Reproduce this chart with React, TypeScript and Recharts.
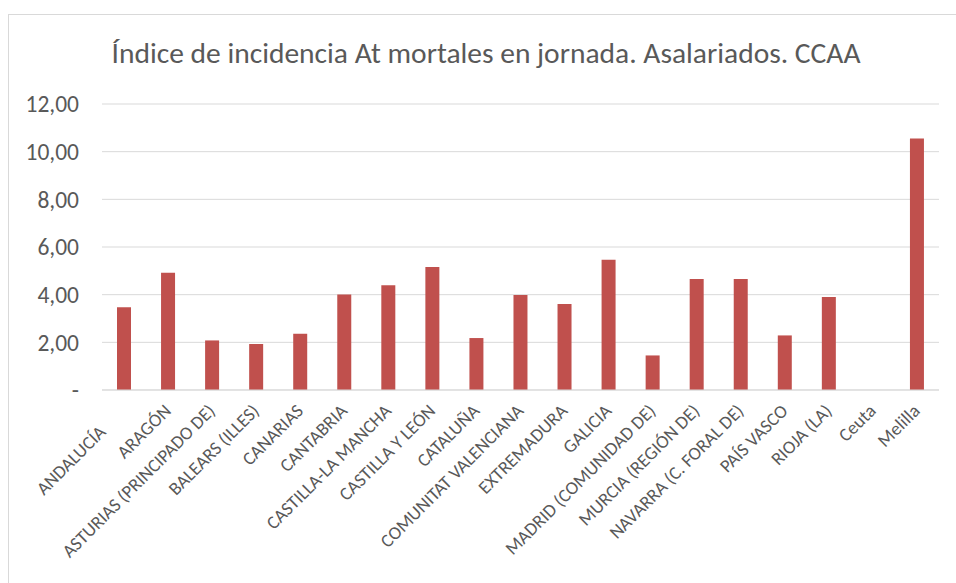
import React from "react";
import { BarChart, Bar, XAxis, YAxis, CartesianGrid } from "recharts";

// Comunidades autónomas, en el orden del gráfico original
const regions = [
  "ANDALUCÍA",
  "ARAGÓN",
  "ASTURIAS (PRINCIPADO DE)",
  "BALEARS (ILLES)",
  "CANARIAS",
  "CANTABRIA",
  "CASTILLA-LA MANCHA",
  "CASTILLA Y LEÓN",
  "CATALUÑA",
  "COMUNITAT VALENCIANA",
  "EXTREMADURA",
  "GALICIA",
  "MADRID (COMUNIDAD DE)",
  "MURCIA (REGIÓN DE)",
  "NAVARRA (C. FORAL DE)",
  "PAÍS VASCO",
  "RIOJA (LA)",
  "Ceuta",
  "Melilla",
];

// Índice de incidencia
const incidence = [
  3.47, 4.92, 2.08, 1.93, 2.36, 4.01, 4.39, 5.16, 2.18, 3.99, 3.61, 5.46, 1.45,
  4.66, 4.66, 2.29, 3.9, 0, 10.55,
];

const yTicks = [0, 2, 4, 6, 8, 10, 12];

const TITLE = "Índice de incidencia At mortales en jornada. Asalariados. CCAA";
const FONT = "Carlito, Calibri, Lato, sans-serif";
const TEXT = "#595959";
const GRID = "#d9d9d9";

const data = regions.map((name, i) => ({ name, value: incidence[i] }));

const formatY = (v: number) => (v === 0 ? "-" : v.toFixed(2).replace(".", ","));

function RegionTick(props: any) {
  const { x, y, payload, index } = props;
  // Excel empuja la primera etiqueta hacia abajo a la izquierda
  const shift = index === 0 ? -30 : 0;
  return (
    <g transform={`translate(${x + 4},${y + 22}) rotate(-45)`}>
      <text
        x={shift}
        y={0}
        textAnchor="end"
        fill={TEXT}
        fontSize={18.5}
        fontFamily={FONT}
      >
        {payload.value}
      </text>
    </g>
  );
}

export default function App() {
  return (
    <div
      style={{
        position: "fixed",
        left: 8,
        top: 14,
        width: 948,
        height: 569,
        borderLeft: `1px solid ${GRID}`,
        borderTop: `1px solid ${GRID}`,
        background: "#fff",
        fontFamily: FONT,
      }}
    >
      <div
        style={{
          position: "absolute",
          left: 0,
          top: 18,
          width: 954,
          textAlign: "center",
          fontSize: 29.5,
          lineHeight: "40px",
          color: TEXT,
        }}
      >
        {TITLE}
      </div>
      <BarChart
        width={947}
        height={568}
        data={data}
        margin={{ top: 89, right: 17, bottom: 43, left: 0 }}
        barSize={14}
      >
        <CartesianGrid vertical={false} stroke={GRID} />
        <XAxis
          dataKey="name"
          interval={0}
          height={150}
          tickLine={false}
          tickSize={0}
          tickMargin={0}
          axisLine={{ stroke: GRID }}
          tick={<RegionTick />}
        />
        <YAxis
          width={93}
          domain={[0, 12]}
          ticks={yTicks}
          tickFormatter={formatY}
          axisLine={false}
          tickLine={false}
          tickSize={0}
          tickMargin={23}
          tick={{ fontSize: 23.5, fill: TEXT, fontFamily: FONT }}
        />
        <Bar dataKey="value" fill="#C0504D" isAnimationActive={false} />
      </BarChart>
    </div>
  );
}
